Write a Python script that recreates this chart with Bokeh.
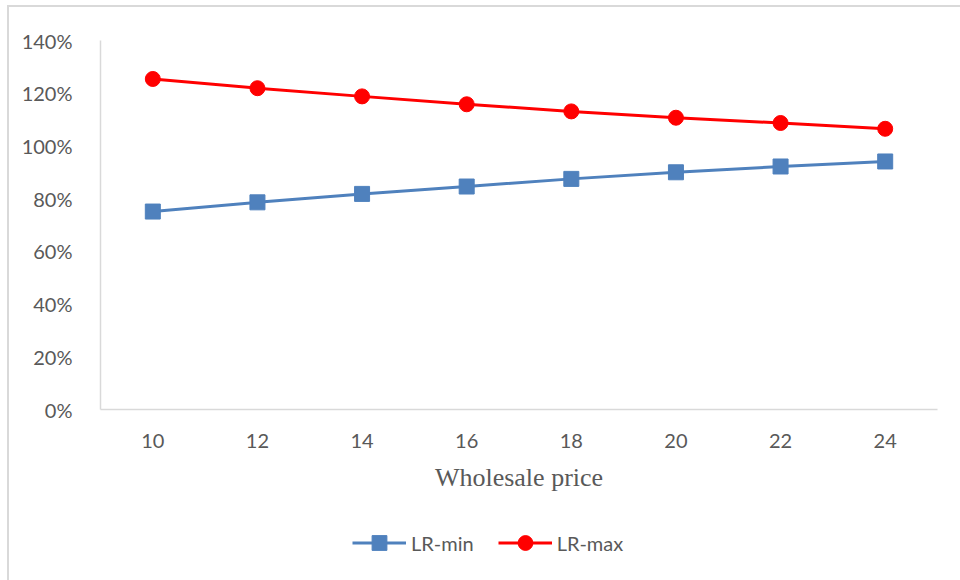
from bokeh.plotting import figure
from bokeh.layouts import column
from bokeh.models import FactorRange, Range1d, NumeralTickFormatter, FixedTicker, Legend, LegendItem, ColumnDataSource
from bokeh.embed import file_html
from bokeh.resources import INLINE

prices = ["10", "12", "14", "16", "18", "20", "22", "24"]
lr_min = [0.751, 0.786, 0.818, 0.846, 0.875, 0.900, 0.922, 0.941]
lr_max = [1.254, 1.219, 1.188, 1.158, 1.131, 1.107, 1.087, 1.065]
y_ticks = [0, 0.2, 0.4, 0.6, 0.8, 1.0, 1.2, 1.4]
series_names = ["LR-min", "LR-max"]

blue = "#4f81bd"
red = "#ff0000"

src = ColumnDataSource(dict(x=prices, lo=lr_min, hi=lr_max))

chart = figure(
    width=951, height=493,
    x_range=FactorRange(*prices, range_padding=0),
    y_range=Range1d(0, 1.4),
    output_backend="svg", toolbar_location=None,
    min_border_left=91, min_border_top=33, min_border_right=23, min_border_bottom=91,
)
chart.outline_line_color = None
chart.xgrid.grid_line_color = None
chart.ygrid.grid_line_color = None

chart.line("x", "lo", source=src, line_color=blue, line_width=3)
chart.scatter("x", "lo", source=src, marker="square", size=15, fill_color=blue, line_color=blue)
chart.line("x", "hi", source=src, line_color=red, line_width=3)
chart.scatter("x", "hi", source=src, marker="circle", size=15, fill_color=red, line_color=red)

for ax in (chart.xaxis[0], chart.yaxis[0]):
    ax.axis_line_color = "#d9d9d9"
    ax.axis_line_width = 1.5
    ax.major_tick_line_color = None
    ax.minor_tick_line_color = None
    ax.major_label_text_font = "Lato"
    ax.major_label_text_font_size = "20px"
    ax.major_label_text_color = "#595959"

chart.yaxis[0].ticker = FixedTicker(ticks=y_ticks)
chart.yaxis[0].formatter = NumeralTickFormatter(format="0%")
chart.yaxis[0].major_label_standoff = 22
chart.xaxis[0].major_label_standoff = 18
chart.xaxis[0].axis_label = "Wholesale price"
chart.xaxis[0].axis_label_text_font = "Liberation Serif"
chart.xaxis[0].axis_label_text_font_style = "normal"
chart.xaxis[0].axis_label_text_font_size = "26px"
chart.xaxis[0].axis_label_text_color = "#595959"
chart.xaxis[0].axis_label_standoff = 12

# legend strip (its sample renderers hold a point outside the visible range)
leg = figure(
    width=951, height=80, x_range=Range1d(0, 1), y_range=Range1d(0, 1),
    x_axis_type=None, y_axis_type=None,
    output_backend="svg", toolbar_location=None,
    min_border_left=0, min_border_right=0, min_border_top=0, min_border_bottom=0,
)
leg.outline_line_color = None
leg.xgrid.grid_line_color = None
leg.ygrid.grid_line_color = None
hidden = ColumnDataSource(dict(x=[-5, -4], y=[-5, -4]))
d1 = leg.line("x", "y", source=hidden, line_color=blue, line_width=3)
d1m = leg.scatter("x", "y", source=hidden, marker="square", size=15, fill_color=blue, line_color=blue)
d2 = leg.line("x", "y", source=hidden, line_color=red, line_width=3)
d2m = leg.scatter("x", "y", source=hidden, marker="circle", size=15, fill_color=red, line_color=red)

legend = Legend(
    items=[LegendItem(label=series_names[0], renderers=[d1, d1m]),
           LegendItem(label=series_names[1], renderers=[d2, d2m])],
    orientation="horizontal", location=(252, 19),
    glyph_width=54, glyph_height=37, label_standoff=5, spacing=24,
    padding=0, margin=0, border_line_color=None, background_fill_alpha=0,
    label_text_font="Lato", label_text_font_size="20px", label_text_color="#595959",
)
leg.add_layout(legend, "center")

p = column(chart, leg, spacing=0,
           styles={"position": "absolute", "left": "7px", "top": "5px",
                   "border-top": "2px solid #d9d9d9", "border-left": "2px solid #d9d9d9"})

open("out.html", "w").write(file_html(p, INLINE))
